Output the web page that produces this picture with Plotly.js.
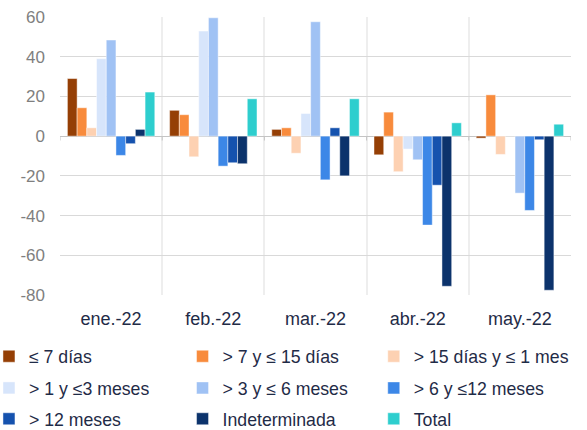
<!DOCTYPE html>
<html>
<head>
<meta charset="utf-8">
<script src="https://cdn.plot.ly/plotly-3.0.1.min.js"></script>
<style>html,body{margin:0;padding:0;background:#fff}#chart{width:587px;height:430px}</style>
</head>
<body>
<div id="chart"></div>
<script>
var categories = ["ene.-22", "feb.-22", "mar.-22", "abr.-22", "may.-22"];
var seriesNames = ["≤ 7 días", "> 7 y ≤ 15 días", "> 15 días y ≤ 1 mes", "> 1 y ≤3 meses", "> 3 y ≤ 6 meses", "> 6 y ≤12 meses", "> 12 meses", "Indeterminada", "Total"];
var s1 = [29.0, 13.0, 3.4, -9.4, -1.0];
var s2 = [14.3, 10.8, 4.2, 12.1, 20.8];
var s3 = [4.2, -10.4, -8.6, -17.9, -9.2];
var s4 = [39.0, 52.9, 11.4, -6.5, 0.0];
var s5 = [48.4, 59.6, 57.6, -11.9, -28.7];
var s6 = [-9.7, -15.1, -22.0, -44.8, -37.4];
var s7 = [-3.8, -13.4, 4.2, -24.7, -1.8];
var s8 = [3.4, -13.9, -20.0, -75.6, -77.6];
var s9 = [22.2, 18.8, 18.8, 6.7, 6.0];
var yTickVals = [60, 40, 20, 0, -20, -40, -60, -80];
var yTickText = ["60", "40", "20", "0", "-20", "-40", "-60", "-80"];

var values = [s1, s2, s3, s4, s5, s6, s7, s8, s9];
var colors = ["#953F05", "#F88B3C", "#FDD1B2", "#D7E5FB", "#A0C2F4", "#3C87E7", "#1552AE", "#0C336C", "#2ECECE"];

var textColor = "#1F2B47";
var fontFam = "'Liberation Sans', Arial, sans-serif";

// legend grid: 3 columns x 3 rows below the plot (paper coordinates)
var legendColX = [-0.139, 0.2398, 0.614];
var legendRowY = [-0.222, -0.336, -0.447];

var traces = values.map(function (v, i) {
  return {
    type: "bar",
    name: seriesNames[i],
    x: categories,
    y: v,
    legend: i === 0 ? "legend" : "legend" + (i + 1),
    marker: { color: colors[i], line: { color: "rgba(255,255,255,0.45)", width: 1 } },
    hoverinfo: "x+y+name"
  };
});

var shapes = [];
for (var i = 0; i <= categories.length; i++) {
  shapes.push({ type: "line", xref: "x", yref: "y", x0: i - 0.5, x1: i - 0.5, y0: 0, y1: -2.2,
    line: { color: "#c4c4c4", width: 1 } });
}

var layout = {
  width: 587, height: 430,
  margin: { l: 60, r: 16, t: 17, b: 135, autoexpand: false },
  paper_bgcolor: "#ffffff", plot_bgcolor: "#ffffff",
  font: { family: fontFam },
  barmode: "group", bargap: 0.145, bargroupgap: 0,
  showlegend: true,
  xaxis: {
    type: "category", tickson: "boundaries", showgrid: true, gridcolor: "#eeeeee", gridwidth: 2,
    ticks: "", showline: false, zeroline: false, ticklabelstandoff: 11,
    tickfont: { family: fontFam, size: 18, color: textColor },
    range: [-0.5, categories.length - 0.5], fixedrange: true
  },
  yaxis: {
    range: [-80, 60], tickvals: yTickVals, ticktext: yTickText,
    showgrid: true, gridcolor: "#d9d9d9", gridwidth: 1,
    zeroline: true, zerolinecolor: "#c4c4c4", zerolinewidth: 1,
    showline: false, ticks: "", ticklabelstandoff: 14,
    tickfont: { family: fontFam, size: 17, color: "#7F7F7F" },
    fixedrange: true
  },
  shapes: shapes
};

seriesNames.forEach(function (n, i) {
  var key = i === 0 ? "legend" : "legend" + (i + 1);
  layout[key] = {
    orientation: "h",
    x: legendColX[i % 3], y: legendRowY[Math.floor(i / 3)],
    xanchor: "left", yanchor: "middle",
    font: { family: fontFam, size: 17.7, color: textColor },
    bgcolor: "rgba(0,0,0,0)", borderwidth: 0
  };
});

Plotly.newPlot("chart", traces, layout, { displayModeBar: false, staticPlot: true });
</script>
</body>
</html>
